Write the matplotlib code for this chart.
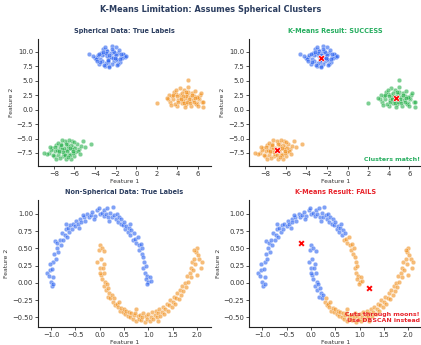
import numpy as np
import matplotlib
matplotlib.use("Agg")
import matplotlib.pyplot as plt

# --- data ---
blob_a = [(-2.6, 9.0), (-3.1, 9.6), (-2.2, 8.4), (-1.8, 9.9), (-3.5, 8.8), (-2.9, 10.4), (-2.4, 7.9),
          (-1.5, 9.2), (-3.8, 9.1), (-2.0, 10.8), (-2.7, 8.2), (-3.3, 9.4), (-1.2, 9.5), (-2.5, 9.8),
          (-3.0, 7.6), (-1.9, 8.6), (-3.6, 8.0), (-2.3, 10.1), (-2.8, 9.3), (-1.6, 8.3), (-4.0, 9.0),
          (-2.1, 9.7), (-3.2, 10.6), (-2.6, 7.5), (-1.4, 8.9), (-3.4, 9.9), (-2.9, 8.1), (-2.0, 8.7),
          (-1.7, 10.3), (-3.7, 9.5), (-2.4, 11.1), (-2.7, 8.5), (-3.1, 7.8), (-1.3, 9.6), (-2.2, 10.0),
          (-3.9, 8.7), (-2.5, 9.2), (-1.8, 8.0), (-3.0, 10.9), (-2.6, 7.4), (-4.2, 9.3), (-2.3, 9.0),
          (-1.1, 9.1), (-3.3, 8.4), (-2.8, 10.2), (-2.0, 9.5), (-3.5, 8.2), (-1.6, 8.8), (-2.9, 9.8),
          (-2.4, 10.5), (-3.6, 9.6), (-1.9, 7.8), (-2.7, 8.6), (-3.2, 10.0), (-1.5, 9.7), (-2.1, 8.9),
          (-3.8, 8.5), (-2.6, 9.4), (-1.0, 9.3), (-4.6, 9.6)]

blob_b = [(4.7, 2.0), (4.2, 2.6), (5.1, 1.5), (3.6, 1.9), (5.6, 2.4), (4.4, 1.2), (5.0, 3.1),
          (3.9, 2.8), (6.1, 1.8), (4.8, 0.9), (3.3, 1.4), (5.4, 2.9), (4.1, 1.7), (5.9, 1.1),
          (4.6, 3.4), (3.5, 2.3), (5.2, 2.2), (4.0, 0.7), (6.4, 1.3), (4.9, 2.7), (3.8, 1.0),
          (5.7, 3.3), (4.3, 2.1), (5.5, 1.6), (3.2, 2.5), (6.2, 2.6), (4.5, 1.5), (5.3, 0.6),
          (3.7, 3.1), (4.8, 2.4), (6.0, 2.1), (4.2, 3.7), (5.1, 1.9), (3.4, 0.8), (5.8, 0.9),
          (4.6, 1.1), (6.5, 0.5), (4.0, 2.4), (5.0, 3.9), (3.1, 1.8), (5.6, 1.4), (4.4, 2.9),
          (6.3, 2.9), (4.9, 1.3), (3.6, 2.6), (5.4, 2.5), (4.1, 1.4), (5.9, 2.2), (4.7, 0.5),
          (3.9, 3.4), (6.5, 1.4), (4.5, 2.3), (5.2, 1.1), (3.0, 2.1), (5.7, 2.0), (4.3, 1.8),
          (6.0, 0.6), (4.8, 3.0), (2.0, 1.1), (5.0, 5.1)]

blob_c = [(-6.9, -7.0), (-7.4, -6.4), (-6.5, -7.6), (-7.9, -7.2), (-6.1, -6.5), (-7.1, -8.1), (-6.7, -5.8),
          (-8.2, -6.7), (-5.9, -7.3), (-7.6, -7.9), (-6.3, -6.1), (-7.0, -6.6), (-8.5, -7.5), (-6.0, -8.0),
          (-7.3, -5.9), (-6.6, -6.9), (-7.8, -6.2), (-5.6, -6.8), (-6.8, -8.5), (-7.5, -7.4), (-6.2, -5.4),
          (-8.0, -8.1), (-6.4, -7.8), (-7.2, -6.9), (-5.8, -5.9), (-7.7, -7.0), (-6.9, -5.5), (-8.7, -7.7),
          (-6.1, -7.5), (-7.0, -7.7), (-5.4, -6.3), (-6.6, -6.3), (-7.9, -6.4), (-6.3, -8.6), (-7.4, -8.4),
          (-5.7, -7.1), (-6.8, -6.0), (-8.3, -7.0), (-6.5, -5.2), (-7.1, -7.3), (-5.9, -6.6), (-7.6, -5.8),
          (-6.2, -6.9), (-8.1, -7.8), (-6.7, -7.2), (-5.5, -7.6), (-7.3, -6.2), (-6.0, -5.6), (-7.8, -8.6),
          (-6.4, -6.6), (-9.0, -7.5), (-6.9, -7.9), (-5.2, -5.5), (-7.2, -5.3), (-6.6, -8.2), (-8.4, -6.5),
          (-6.1, -7.1), (-7.5, -7.1), (-5.0, -6.4), (-4.4, -6.0)]

moon_top = [(-1.08, 0.14), (-1.02, 0.18), (-1.05, 0.10), (-0.98, -0.04), (-1.00, 0.02), (-0.95, 0.30),
            (-1.03, 0.28), (-0.97, 0.20), (-0.93, 0.42), (-0.90, 0.35), (-0.95, 0.08), (-0.88, 0.50),
            (-0.92, 0.60), (-0.85, 0.45), (-0.87, 0.58), (-0.82, 0.62), (-0.80, 0.55), (-0.78, 0.72),
            (-0.75, 0.62), (-0.72, 0.70), (-0.70, 0.78), (-0.68, 0.66), (-0.65, 0.80), (-0.62, 0.74),
            (-0.60, 0.84), (-0.57, 0.78), (-0.55, 0.86), (-0.50, 0.82), (-0.48, 0.90), (-0.45, 0.85),
            (-0.40, 0.92), (-0.38, 0.88), (-0.33, 0.95), (-0.30, 0.89), (-0.25, 1.00), (-0.22, 0.96),
            (-0.18, 0.99), (-0.15, 1.03), (-0.10, 0.97), (-0.05, 1.05), (-0.02, 1.09), (0.00, 1.00),
            (0.05, 1.02), (0.08, 0.97), (0.10, 1.06), (0.13, 1.00), (0.16, 1.08), (0.18, 0.95),
            (0.22, 1.02), (0.25, 0.96), (0.27, 1.10), (0.30, 0.98), (0.33, 0.93), (0.35, 1.00),
            (0.38, 0.88), (0.40, 0.95), (0.43, 0.85), (0.45, 0.92), (0.48, 0.84), (0.50, 0.88),
            (0.53, 0.78), (0.55, 0.83), (0.58, 0.74), (0.60, 0.80), (0.63, 0.70), (0.65, 0.76),
            (0.68, 0.62), (0.70, 0.72), (0.72, 0.64), (0.75, 0.58), (0.78, 0.66), (0.80, 0.55),
            (0.82, 0.48), (0.85, 0.56), (0.87, 0.42), (0.88, 0.50), (0.90, 0.38), (0.92, 0.30),
            (0.90, 0.22), (0.95, 0.25), (0.93, 0.15), (0.97, 0.10), (0.95, 0.05), (1.00, 0.02),
            (1.03, 0.08), (0.98, -0.02), (1.05, 0.03), (-0.70, 0.86), (-0.35, 0.98), (0.20, 0.90),
            (-0.12, 0.92), (-0.95, -0.02), (-0.42, 0.80), (0.62, 0.86)]

moon_bottom = [(0.00, 0.55), (-0.02, 0.48), (0.05, 0.50), (0.10, 0.46), (-0.05, 0.30), (0.00, 0.22),
               (0.03, 0.35), (0.06, 0.22), (0.08, 0.28), (0.02, 0.12), (0.05, 0.05), (0.10, 0.14),
               (0.12, 0.02), (0.08, -0.05), (0.15, -0.02), (0.13, -0.10), (0.18, -0.08), (0.20, -0.15),
               (0.17, -0.20), (0.22, -0.22), (0.25, -0.18), (0.28, -0.28), (0.30, -0.22), (0.32, -0.32),
               (0.35, -0.30), (0.38, -0.35), (0.40, -0.28), (0.42, -0.40), (0.45, -0.36), (0.48, -0.42),
               (0.50, -0.38), (0.53, -0.45), (0.55, -0.40), (0.58, -0.48), (0.60, -0.42), (0.63, -0.50),
               (0.65, -0.44), (0.68, -0.52), (0.70, -0.47), (0.73, -0.43), (0.75, -0.55), (0.78, -0.48),
               (0.80, -0.52), (0.83, -0.46), (0.85, -0.54), (0.88, -0.50), (0.90, -0.44), (0.93, -0.56),
               (0.95, -0.48), (0.98, -0.52), (1.00, -0.45), (1.03, -0.55), (1.05, -0.50), (1.08, -0.42),
               (1.10, -0.53), (1.13, -0.47), (1.15, -0.40), (1.18, -0.50), (1.20, -0.44), (1.23, -0.38),
               (1.25, -0.48), (1.28, -0.42), (1.30, -0.35), (1.33, -0.45), (1.35, -0.38), (1.38, -0.30),
               (1.40, -0.40), (1.43, -0.32), (1.45, -0.25), (1.48, -0.35), (1.50, -0.28), (1.53, -0.20),
               (1.55, -0.30), (1.58, -0.22), (1.60, -0.15), (1.63, -0.24), (1.65, -0.10), (1.68, -0.18),
               (1.70, -0.05), (1.72, -0.12), (1.75, 0.00), (1.78, -0.06), (1.80, 0.10), (1.82, 0.02),
               (1.85, 0.15), (1.87, 0.08), (1.88, 0.22), (1.90, 0.30), (1.92, 0.18), (1.95, 0.35),
               (1.97, 0.28), (1.98, 0.45), (2.00, 0.50), (2.02, 0.40), (2.05, 0.35), (2.08, 0.22),
               (2.00, 0.12), (1.95, 0.48), (2.10, 0.30), (0.00, 0.15), (0.75, -0.38), (1.20, -0.55)]

blob_centroids = [(-2.6, 9.0), (-6.9, -7.0), (4.7, 2.0)]
moon_centroids = [(-0.2, 0.58), (1.2, -0.07)]

BLUE = "#2a62f0"
ORANGE = "#f0901e"
GREEN = "#25b04a"
NAVY = "#2c3e60"
OK_GREEN = "#27ae60"
BAD_RED = "#e8242c"

blob_a = np.array(blob_a)
blob_b = np.array(blob_b)
blob_c = np.array(blob_c)
moon_top = np.array(moon_top)
moon_bottom = np.array(moon_bottom)
moon_all = np.vstack([moon_top, moon_bottom])
mc = np.array(moon_centroids)
# nearest-centroid assignment for the k-means panel
d = ((moon_all[:, None, :] - mc[None, :, :]) ** 2).sum(axis=2)
km_lab = d.argmin(axis=1)

fig = plt.figure(figsize=(4.21, 3.45), dpi=100)
w, h = 0.411, 0.368
ax1 = fig.add_axes([0.090, 0.519, w, h])
ax2 = fig.add_axes([0.592, 0.519, w, h])
ax3 = fig.add_axes([0.090, 0.052, w, h])
ax4 = fig.add_axes([0.592, 0.052, w, h])

kw = dict(s=11, alpha=0.6, edgecolors="white", linewidths=0.35)


def pts(ax, arr, c):
    ax.scatter(arr[:, 0], arr[:, 1], c=c, **kw)


pts(ax1, blob_a, BLUE)
pts(ax1, blob_b, ORANGE)
pts(ax1, blob_c, GREEN)

pts(ax2, blob_a, BLUE)
pts(ax2, blob_b, GREEN)
pts(ax2, blob_c, ORANGE)
bc = np.array(blob_centroids)
ax2.scatter(bc[:, 0], bc[:, 1], c="red", marker="X", s=24, edgecolors="white", linewidths=0.4, zorder=5)

pts(ax3, moon_top, BLUE)
pts(ax3, moon_bottom, ORANGE)

pts(ax4, moon_all[km_lab == 0], BLUE)
pts(ax4, moon_all[km_lab == 1], ORANGE)
ax4.scatter(mc[:, 0], mc[:, 1], c="red", marker="X", s=24, edgecolors="white", linewidths=0.4, zorder=5)

titles = [(ax1, "Spherical Data: True Labels", NAVY),
          (ax2, "K-Means Result: SUCCESS", OK_GREEN),
          (ax3, "Non-Spherical Data: True Labels", NAVY),
          (ax4, "K-Means Result: FAILS", BAD_RED)]
for ax, t, col in titles:
    ax.set_title(t, fontsize=4.7, fontweight="bold", color=col, pad=4.5)
    ax.set_xlabel("Feature 1", fontsize=4.4, labelpad=1.5, color="#333333")
    ax.set_ylabel("Feature 2", fontsize=4.4, labelpad=2, color="#333333")
    ax.tick_params(labelsize=4.9, length=2, width=0.6, pad=1.5, colors="#333333")
    for side in ["top", "right"]:
        ax.spines[side].set_visible(False)
    for side in ["left", "bottom"]:
        ax.spines[side].set_linewidth(0.8)
        ax.spines[side].set_color("#222222")

for ax in (ax1, ax2):
    ax.set_xlim(-9.55, 7.25)
    ax.set_ylim(-9.75, 12.25)
    ax.set_xticks([-8, -6, -4, -2, 0, 2, 4, 6])
    ax.set_yticks([-7.5, -5.0, -2.5, 0.0, 2.5, 5.0, 7.5, 10.0])
for ax in (ax3, ax4):
    ax.set_xlim(-1.27, 2.29)
    ax.set_ylim(-0.64, 1.2)
    ax.set_xticks([-1.0, -0.5, 0.0, 0.5, 1.0, 1.5, 2.0])
    ax.set_yticks([-0.5, -0.25, 0.0, 0.25, 0.5, 0.75, 1.0])

ax2.text(0.985, 0.035, "Clusters match!", transform=ax2.transAxes, ha="right", va="bottom",
         fontsize=4.5, fontweight="bold", color=OK_GREEN)
ax4.text(0.985, 0.035, "Cuts through moons!\nUse DBSCAN instead", transform=ax4.transAxes,
         ha="right", va="bottom", fontsize=4.5, fontweight="bold", color=BAD_RED, linespacing=1.15)

fig.suptitle("K-Means Limitation: Assumes Spherical Clusters", fontsize=5.9, fontweight="bold",
             color=NAVY, y=0.985)

fig.savefig("out.png", dpi=100)
